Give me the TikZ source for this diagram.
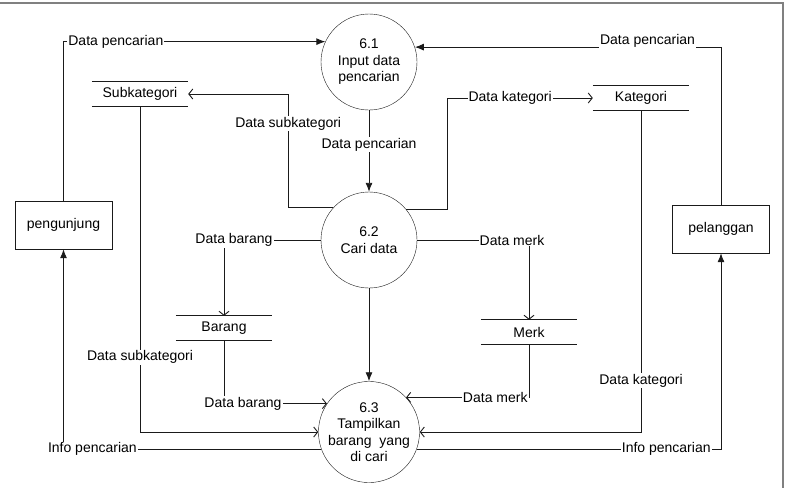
\documentclass[tikz,border=0pt]{standalone}
\usepackage{fontspec}
\setmainfont{Liberation Sans}
\usepackage{tikz}
\usepackage{xcolor}
\definecolor{dfdLine}{HTML}{1A1A1A}
\definecolor{dfdFrame}{HTML}{808080}
\usetikzlibrary{arrows.meta}

\tikzset{
  proc/.style={circle, draw=dfdLine, minimum size=96pt, inner sep=0pt, align=center},
  ent/.style={rectangle, draw=dfdLine, minimum width=97pt, minimum height=48pt},
  store/.style={minimum width=96pt, minimum height=24pt},
  flow/.style={draw=dfdLine, line width=0.9pt, -{Latex[length=9pt,width=7pt]}},
  dflow/.style={draw=dfdLine, line width=0.9pt, -{Straight Barb[length=4pt,width=10pt]}},
  lab/.style={fill=white, inner sep=1pt},
}

\begin{document}
\begin{tikzpicture}[x=1pt, y=-1pt, font=\fontsize{14}{16.5}\selectfont]
  \useasboundingbox (0,0) rectangle (786,488);
  \draw[dfdFrame, line width=1.5pt] (0,3) -- (783,3) -- (783,488);
  \node[proc] (c61) at (369,62) {6.1\\Input data\\pencarian};
  \node[proc] (c62) at (369,240) {6.2\\Cari data};
  \node[proc] (c63) at (369,432) {6.3\\Tampilkan\\barang\ \ yang\\di cari};
  \node[ent] (pengunjung) at (63.5,225) {pengunjung};
  \node[ent] (pelanggan) at (721,229) {pelanggan};
  \node[store] (sub) at (140,94) {Subkategori};
  \node[store] (kat) at (641,98) {Kategori};
  \node[store] (bar) at (224,328) {Barang};
  \node[store] (merk) at (529,332) {Merk};
  \foreach \s in {sub, kat, bar, merk}
    \draw[dfdLine, line width=0.9pt] (\s.north west) -- (\s.north east)
      (\s.south west) -- (\s.south east);
  \draw[flow] (pengunjung.north) |- node[lab, pos=0.6] {Data pencarian} (c61.155);
  \draw[flow] (pelanggan.north) |- node[lab, pos=0.62, yshift=6pt, inner ysep=4pt] {Data pencarian} (c61.18);
  \draw[flow] (c61) -- node[lab, pos=0.42] {Data pencarian} (c62);
  \draw[dflow] (c62.138) -| node[lab, pos=0.87] {Data subkategori} ([xshift=100pt]sub.east) -- (sub.east);
  \draw[dflow] (c62.39) -| ([xshift=-145pt]kat.west) -- node[lab, pos=0.43] {Data kategori} (kat.west);
  \draw[dflow] (c62.west) -| node[lab, pos=0.5, xshift=10pt] {Data barang} (bar.north);
  \draw[dflow] (c62.east) -| node[lab, pos=0.5, xshift=-17pt] {Data merk} (merk.north);
  \draw[flow] (c62) -- (c63);
  \draw[dflow] (bar.south) |- node[lab, pos=0.5, xshift=19pt] {Data barang} (c63.146);
  \draw[dflow] (sub.south) |- node[lab, pos=0.385] {Data subkategori} (c63.west);
  \draw[dflow] (merk.south) |- node[lab, pos=0.5, anchor=east] {Data merk} (c63.43);
  \draw[dflow] (kat.south) |- node[lab, pos=0.42] {Data kategori} (c63.east);
  \draw[flow] (c63.200) -| node[lab, pos=0.444] {Info pencarian} (pengunjung.south);
  \draw[flow] (c63.-20) -| node[lab, pos=0.41] {Info pencarian} (pelanggan.south);
\end{tikzpicture}
\end{document}
